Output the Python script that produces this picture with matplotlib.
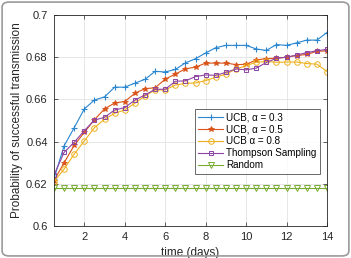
import numpy as np
import matplotlib.pyplot as plt
from matplotlib.patches import FancyBboxPatch

plt.rcParams['font.family'] = ['Liberation Sans', 'DejaVu Sans']

# time axis (days)
days = np.arange(0.5, 14.01, 0.5)

ucb_03 = [0.6225, 0.638, 0.6466, 0.6555, 0.6597, 0.6612, 0.6658, 0.6658, 0.6677, 0.6695,
          0.6733, 0.673, 0.6742, 0.6773, 0.6793, 0.682, 0.6845, 0.6856, 0.6856, 0.6856,
          0.6839, 0.6832, 0.686, 0.6856, 0.6868, 0.6881, 0.6881, 0.6917]
ucb_05 = [0.6215, 0.630, 0.6382, 0.6444, 0.6504, 0.6555, 0.6583, 0.659, 0.6629, 0.6651,
          0.6655, 0.6696, 0.672, 0.6745, 0.6753, 0.6772, 0.6772, 0.6772, 0.6765, 0.6766,
          0.6787, 0.6793, 0.6795, 0.68, 0.6808, 0.6813, 0.6828, 0.683]
ucb_08 = [0.621, 0.627, 0.6341, 0.6403, 0.6466, 0.6506, 0.6534, 0.655, 0.6582, 0.6616,
          0.6645, 0.6645, 0.6668, 0.6676, 0.6678, 0.6689, 0.6705, 0.672, 0.6744, 0.676,
          0.6776, 0.678, 0.6776, 0.6777, 0.6777, 0.677, 0.6767, 0.6732]
thompson = [0.6242, 0.6349, 0.6397, 0.6452, 0.6502, 0.6515, 0.655, 0.6561, 0.6597, 0.6621,
            0.6648, 0.6648, 0.6686, 0.6688, 0.6708, 0.6716, 0.6714, 0.6728, 0.6744, 0.674,
            0.6748, 0.6775, 0.6795, 0.68, 0.681, 0.6822, 0.683, 0.6838]
random_pol = [0.618] * 28

labels = ['UCB, α = 0.3', 'UCB, α = 0.5', 'UCB α = 0.8',
          'Thompson Sampling', 'Random']
yticks = [0.6, 0.62, 0.64, 0.66, 0.68, 0.7]
ytick_labels = ['0.6', '0.62', '0.64', '0.66', '0.68', '0.7']
xticks = [2, 4, 6, 8, 10, 12, 14]

fig = plt.figure(figsize=(3.51, 2.58), dpi=100)
ax = fig.add_axes([54/351, 1 - 226/258, (327-54)/351, (226-15)/258])

# rounded frame round the picture
fig.patches.append(FancyBboxPatch((0.006, 0.008), 0.988, 0.984,
                                  boxstyle='round,pad=0,rounding_size=0.02',
                                  transform=fig.transFigure, fill=False,
                                  edgecolor='#9a9a9a', linewidth=1.2))

lw = 0.8
ms = 4
ax.plot(days, ucb_03, color='#2a86cf', marker='+', ms=ms+1, lw=lw, mew=0.8, label=labels[0])
ax.plot(days, ucb_05, color='#D95319', marker='*', ms=ms, lw=lw, mew=0.6, label=labels[1])
ax.plot(days, ucb_08, color='#EDB120', marker='o', ms=ms, lw=lw, mew=0.7, mfc='none', label=labels[2])
ax.plot(days, thompson, color='#8e44a4', marker='s', ms=ms-0.5, lw=lw, mew=0.7, mfc='none', label=labels[3])
ax.plot(days, random_pol, color='#77AC30', marker='v', ms=ms, lw=lw, mew=0.7, mfc='none', label=labels[4])

ax.set_xlim(0.5, 14)
ax.set_ylim(0.6, 0.7)
ax.set_xticks(xticks)
ax.set_yticks(yticks)
ax.set_yticklabels(ytick_labels)
ax.grid(True, color='#e3e3e3', linewidth=0.6)
ax.set_axisbelow(True)
ax.tick_params(direction='in', length=3, width=0.5, labelsize=8, colors='#262626',
               top=True, right=True, pad=4.5)
for s in ax.spines.values():
    s.set_color('#262626')
    s.set_linewidth(0.6)

ax.set_xlabel('time (days)', fontsize=8.5, color='#262626', labelpad=3.5)
ax.set_ylabel('Probability of successful transmission', fontsize=8.5, color='#262626', labelpad=2.5)

leg = ax.legend(loc='upper left', bbox_to_anchor=((195-54)/273, (226-109)/211),
                fontsize=7.1, frameon=True, fancybox=False, edgecolor='#262626',
                handlelength=2.5, borderaxespad=0, borderpad=0.35, labelspacing=0.2,
                handletextpad=0.3)
leg.get_frame().set_linewidth(0.6)

fig.savefig('out.png', dpi=100)
